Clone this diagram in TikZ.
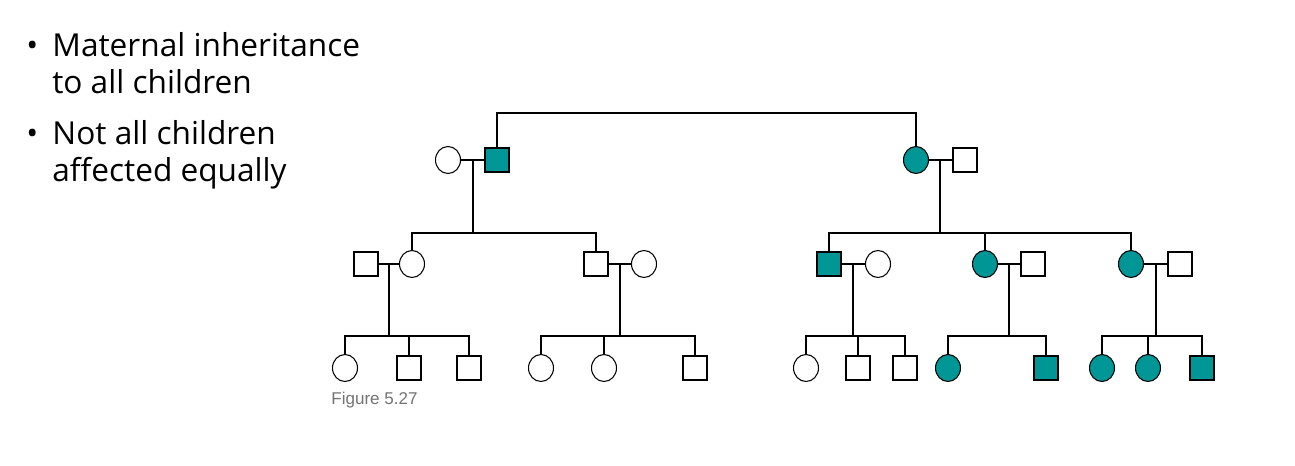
\documentclass[tikz,border=0pt]{standalone}
\usepackage{fontspec}
\usetikzlibrary{shapes.geometric}
\setmainfont{Open Sans}
\setsansfont{Liberation Sans}
\definecolor{teal1}{RGB}{0,150,150}
\begin{document}
\begin{tikzpicture}[x=0.02cm,y=-0.02cm,
  m/.style={draw,line width=0.6pt,minimum size=0.48cm,inner sep=0,rectangle},
  f/.style={draw,line width=0.6pt,minimum width=0.5cm,minimum height=0.54cm,inner sep=0,ellipse},
  a/.style={fill=teal1},
  ln/.style={line width=0.6pt},
  bul/.style={anchor=north west,align=left,font=\fontsize{18}{21}\selectfont,inner sep=0}]
\useasboundingbox (0,0) rectangle (1295,466);
\node[bul] (b1) at (26,32) {\textbullet\hspace{0.45em}Maternal inheritance\\\hspace{0.82em}to all children};
\node[bul] (b2) at (26,120) {\textbullet\hspace{0.45em}Not all children\\\hspace{0.82em}affected equally};
\node[anchor=west,font=\sffamily\fontsize{9.7}{11}\selectfont,text=gray!90!black,inner sep=0] (fig) at (331,400) {Figure 5.27};
% gen 1
\node[f] (g1a) at (448,160) {};
\node[m,a] (g1b) at (497,160) {};
\node[f,a] (g1c) at (916,160) {};
\node[m] (g1d) at (965,160) {};
\coordinate (c1) at (473,160); \coordinate (c2) at (940,160);
\draw[ln] (g1a)--(g1b);
\draw[ln] (g1c)--(g1d);
\draw[ln] (g1b.north) |- (706,113) -| (g1c.north);
% gen 2
\node[m] (l1) at (366,264) {};
\node[f] (l2) at (412,264) {};
\node[m] (l3) at (596,264) {};
\node[f] (l4) at (644,264) {};
\node[m,a] (r1) at (829,264) {};
\node[f] (r2) at (878,264) {};
\node[f,a] (r3) at (985,264) {};
\node[m] (r4) at (1033,264) {};
\node[f,a] (r5) at (1131,264) {};
\node[m] (r6) at (1180,264) {};
\foreach \p/\q in {l1/l2,l3/l4,r1/r2,r3/r4,r5/r6} \draw[ln] (\p)--(\q);
\draw[ln] (c1)--(473,233);
\draw[ln] (l2.north)|-(473,233)-|(l3.north);
\draw[ln] (c2)--(940,233);
\draw[ln] (r1.north)|-(940,233)-|(r5.north);
\draw[ln] (r3.north)--(985,233);
% gen 3
\node[f] (k1) at (345,368) {};
\node[m] (k2) at (409,368) {};
\node[m] (k3) at (469,368) {};
\node[f] (k4) at (541,368) {};
\node[f] (k5) at (604,368) {};
\node[m] (k6) at (695,368) {};
\node[f] (k7) at (806,368) {};
\node[m] (k8) at (858,368) {};
\node[m] (k9) at (905,368) {};
\node[f,a] (k10) at (948,368) {};
\node[m,a] (k11) at (1046,368) {};
\node[f,a] (k12) at (1102,368) {};
\node[f,a] (k13) at (1148,368) {};
\node[m,a] (k14) at (1202,368) {};
\foreach \x/\first/\last/\mid in {389/k1/k3/k2,620/k4/k6/k5,853/k7/k9/k8,1156/k12/k14/k13}{
  \draw[ln] (\x,264)--(\x,336);
  \draw[ln] (\first.north)|-(\x,336)-|(\last.north);
  \draw[ln] (\mid.north)--(\mid.north|-0,336);
}
\draw[ln] (1009,264)--(1009,336);
\draw[ln] (k10.north)|-(1009,336)-|(k11.north);
\end{tikzpicture}
\end{document}
